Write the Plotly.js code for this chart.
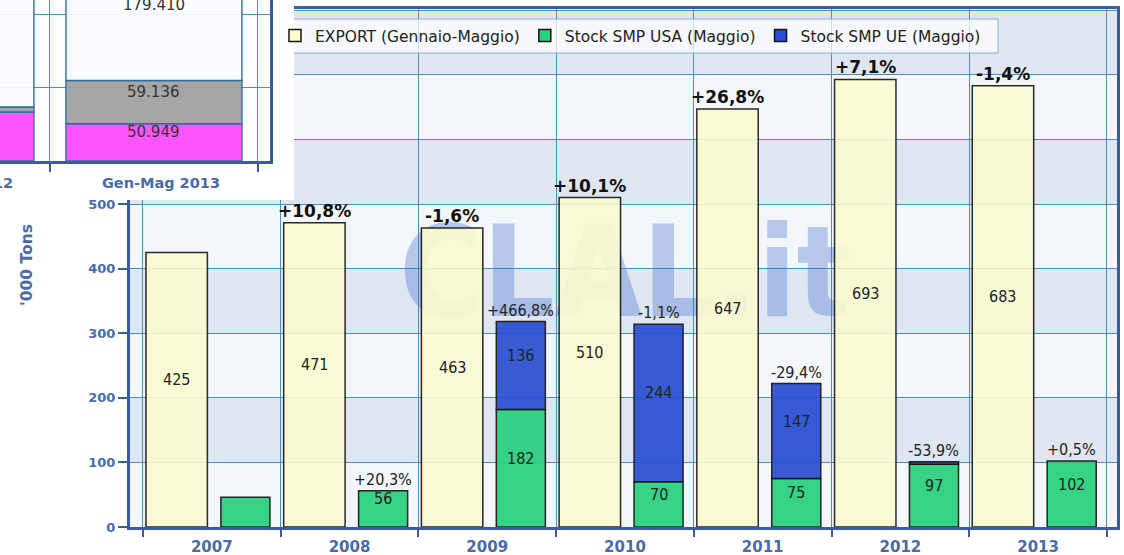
<!DOCTYPE html>
<html><head><meta charset="utf-8">
<script src="https://cdn.plot.ly/plotly-3.0.1.min.js"></script>
<style>html,body{margin:0;padding:0;background:#fff}#chart{width:1124px;height:555px}</style>
</head><body><div id="chart"></div>
<script>
// ---- data ----
const years = ['2007','2008','2009','2010','2011','2012','2013'];
const exportVals = [425, 471, 463, 510, 647, 693, 683];
const stockUSA = [46, 56, 182, 70, 75, 97, 102];
const stockUE = [null, null, 136, 244, 147, 4, null];
const exportPct = [null, '+10,8%', '-1,6%', '+10,1%', '+26,8%', '+7,1%', '-1,4%'];
const stockPct = [null, '+20,3%', '+466,8%', '-1,1%', '-29,4%', '-53,9%', '+0,5%'];

const insetCats = ['Gen-Mag 2012', 'Gen-Mag 2013'];
const insetPink = [67, 50.949];
const insetGrey = [7, 59.136];
const insetOther = [190, 179.410];

// ---- style ----
const W = 1124, H = 555;
const px = v => v / W, py = v => 1 - v / H;
const AXIS_COL = '#3b5c9c', TICK_COL = '#4a6aa8', GRID_COL = '#4592c2';
const BAND_A = '#f3f6fb', BAND_B = '#dfe6f2';
const EXP_W = 0.446, EXP_OFF = -0.478, STK_W = 0.356, STK_OFF = 0.066;
const Y_MAX = 802, X_RANGE = [-0.594, 6.573];
const INSET_YMAX = 220.5, INSET_BW = 0.846;
const COND = 'DejaVu Sans Condensed, DejaVu Sans';

const traces = [];
// watermark (below bars)
traces.push({type:'scatter', mode:'text', x:['2010'], y:[376], text:['CLAL.it'],
  textfont:{family:'Liberation Sans Narrow, DejaVu Sans Condensed', size:126, weight:700, color:'rgba(55,105,205,0.33)'},
  xaxis:'x', yaxis:'y', showlegend:false, hoverinfo:'skip'});

const barLine = {color:'#141414', width:1.5};
traces.push({type:'bar', name:'EXPORT (Gennaio-Maggio)', x:years, y:exportVals, width:EXP_W, offset:EXP_OFF,
  marker:{color:'#fbfbd0', line:barLine, opacity:0.9}, xaxis:'x2', yaxis:'y2', hoverinfo:'skip'});
traces.push({type:'bar', name:'Stock SMP USA (Maggio)', x:years, y:stockUSA, width:STK_W, offset:STK_OFF,
  marker:{color:'#29d17d', line:barLine, opacity:0.93}, xaxis:'x2', yaxis:'y2', hoverinfo:'skip'});
traces.push({type:'bar', name:'Stock SMP UE (Maggio)', x:years, y:stockUE, base:stockUSA, width:STK_W, offset:STK_OFF,
  marker:{color:'#2a50d2', line:barLine, opacity:0.93}, xaxis:'x2', yaxis:'y2', hoverinfo:'skip'});

// cover for inset
traces.push({type:'scatter', x:[], y:[], xaxis:'x3', yaxis:'y3', showlegend:false, hoverinfo:'skip'});

// inset bars
const insetLine = {color:'#2b6e9c', width:1.5};
const greyBase = insetPink.slice();
const otherBase = insetPink.map((v,i)=>v+insetGrey[i]);
traces.push({type:'bar', x:insetCats, y:insetPink, width:INSET_BW, marker:{color:'#ff48ff', line:insetLine, opacity:0.93}, xaxis:'x4', yaxis:'y4', showlegend:false, hoverinfo:'skip'});
traces.push({type:'bar', x:insetCats, y:insetGrey, base:greyBase, width:INSET_BW, marker:{color:'#a0a0a0', line:insetLine, opacity:0.93}, xaxis:'x4', yaxis:'y4', showlegend:false, hoverinfo:'skip'});
traces.push({type:'bar', x:insetCats, y:insetOther, base:otherBase, width:INSET_BW, marker:{color:'#f9fbfe', line:insetLine, opacity:0.93}, xaxis:'x4', yaxis:'y4', showlegend:false, hoverinfo:'skip'});

// ---- shapes ----
const shapes = [];
for (let v = 0; v < Y_MAX; v += 100) {
  shapes.push({type:'rect', xref:'x domain', yref:'y', x0:0, x1:1, y0:v, y1:Math.min(v+100, Y_MAX),
    fillcolor:(v/100)%2 ? BAND_B : BAND_A, line:{width:0}, layer:'below'});
}
for (let v = 0; v < INSET_YMAX; v += 100) {
  shapes.push({type:'rect', xref:'x4 domain', yref:'y4', x0:0, x1:1, y0:v, y1:Math.min(v+100, INSET_YMAX),
    fillcolor:(v/100)%2 ? BAND_B : BAND_A, line:{width:0}, layer:'below'});
}
// legend box (left part hidden by inset)
shapes.push({type:'path', xref:'paper', yref:'paper',
  path:`M ${px(294)},${py(19)} L ${px(998)},${py(19)} L ${px(998)},${py(53)} L ${px(294)},${py(53)}`,
  fillcolor:'rgba(255,255,255,0.7)', line:{color:'#86b4d2', width:1}, layer:'above'});

// ---- annotations ----
const annotations = [];
const valFont = {family:COND, size:16, color:'#222'};
const pctFont = {family:COND, size:16, color:'#222'};
const pctBold = {family:'DejaVu Sans', size:17, weight:700, color:'#111'};
years.forEach((yr, i) => {
  const ex = i + EXP_OFF + EXP_W/2;
  const sx = i + STK_OFF + STK_W/2;
  annotations.push({xref:'x2', yref:'y2', x:ex, y:exportVals[i]/2, yshift:10, text:String(exportVals[i]), showarrow:false, font:valFont});
  if (exportPct[i]) annotations.push({xref:'x2', yref:'y2', x:ex, y:exportVals[i], yanchor:'bottom', text:exportPct[i], showarrow:false, font:pctBold});
  if (stockPct[i]) annotations.push({xref:'x2', yref:'y2', x:sx, y:stockUSA[i]/2, yshift:10, text:String(stockUSA[i]), showarrow:false, font:valFont});
  if (stockUE[i] && stockUE[i] >= 20) annotations.push({xref:'x2', yref:'y2', x:sx, y:stockUSA[i] + stockUE[i]/2, yshift:10, text:String(stockUE[i]), showarrow:false, font:valFont});
  if (stockPct[i]) annotations.push({xref:'x2', yref:'y2', x:sx, y:stockUSA[i] + (stockUE[i]||0), yanchor:'bottom', text:stockPct[i], showarrow:false, font:pctFont});
});
insetCats.forEach((c, i) => {
  const segs = [[insetPink[i], 0], [insetGrey[i], greyBase[i]], [insetOther[i], otherBase[i]]];
  segs.forEach(([v, b]) => annotations.push({xref:'x4', yref:'y4', x:i, y:b + v/2, yshift:10, text:v.toFixed(3), showarrow:false, font:{family:'DejaVu Sans', size:15, color:'#333'}}));
});
// clipped label of the inset's first category (its centre lies left of the picture)
annotations.push({xref:'paper', yref:'paper', x:px(161.5-208), y:py(183), xanchor:'center', yanchor:'middle', text:insetCats[0], showarrow:false, font:{family:'DejaVu Sans', size:14.5, weight:700, color:TICK_COL}});
// y-axis title
annotations.push({xref:'paper', yref:'paper', x:px(27), y:py(265), xanchor:'center', yanchor:'middle', text:"'000 Tons", textangle:-90, showarrow:false, font:{family:'DejaVu Sans', size:15.5, weight:700, color:TICK_COL}});

const layout = {
  width:W, height:H, margin:{l:0, r:0, t:0, b:0, pad:0},
  paper_bgcolor:'#ffffff', plot_bgcolor:'#ffffff',
  barmode:'overlay', bargap:0, showlegend:true, hovermode:false,
  font:{family:'DejaVu Sans', color:'#222'},
  legend:{orientation:'h', x:px(275), xanchor:'left', y:py(36), yanchor:'middle', bgcolor:'rgba(0,0,0,0)', borderwidth:0,
    font:{family:'DejaVu Sans', size:15.5, color:'#222'}},
  xaxis:{domain:[px(130), px(1117)], anchor:'y', type:'category', categoryorder:'array', categoryarray:years, range:X_RANGE,
    tickson:'boundaries', ticks:'outside', ticklen:7, tickwidth:2, tickcolor:AXIS_COL, ticklabelstandoff:4,
    showgrid:true, gridcolor:GRID_COL, gridwidth:1, showline:true, linecolor:AXIS_COL, linewidth:3, mirror:true,
    tickfont:{family:'DejaVu Sans', size:15, weight:700, color:TICK_COL}},
  yaxis:{domain:[py(527), py(9)], anchor:'x', range:[0, Y_MAX], tick0:0, dtick:100, ticks:'outside', ticklen:9, tickwidth:2, tickcolor:AXIS_COL,
    showgrid:true, gridcolor:GRID_COL, gridwidth:1, zeroline:false, showline:true, linecolor:AXIS_COL, linewidth:3, mirror:true,
    tickfont:{family:'DejaVu Sans', size:13, weight:700, color:TICK_COL}},
  xaxis2:{overlaying:'x', anchor:'y2', type:'category', categoryorder:'array', categoryarray:years, range:X_RANGE, visible:false},
  yaxis2:{overlaying:'y', anchor:'x2', range:[0, Y_MAX], visible:false},
  xaxis3:{domain:[0, px(294)], anchor:'y3', range:[0,1], visible:false},
  yaxis3:{domain:[py(200), 1], anchor:'x3', range:[0,1], visible:false},
  xaxis4:{domain:[0, px(270)], anchor:'y4', type:'category', categoryorder:'array', categoryarray:insetCats, range:[0.26, 1.558],
    tickson:'boundaries', ticks:'outside', ticklen:8, tickwidth:2, tickcolor:AXIS_COL, ticklabelstandoff:7,
    showgrid:true, gridcolor:GRID_COL, gridwidth:1, showline:true, linecolor:AXIS_COL, linewidth:3, ticklabelshift:7,
    tickfont:{family:'DejaVu Sans', size:14.5, weight:700, color:TICK_COL}},
  yaxis4:{domain:[py(161), 1], anchor:'x4', side:'right', range:[0, INSET_YMAX], tick0:0, dtick:100,
    showgrid:true, gridcolor:GRID_COL, gridwidth:1, zeroline:false, showline:true, linecolor:AXIS_COL, linewidth:3,
    ticks:'', showticklabels:false},
  shapes, annotations
};

Plotly.newPlot('chart', traces, layout, {staticPlot:true, displayModeBar:false});
</script>
</body></html>
